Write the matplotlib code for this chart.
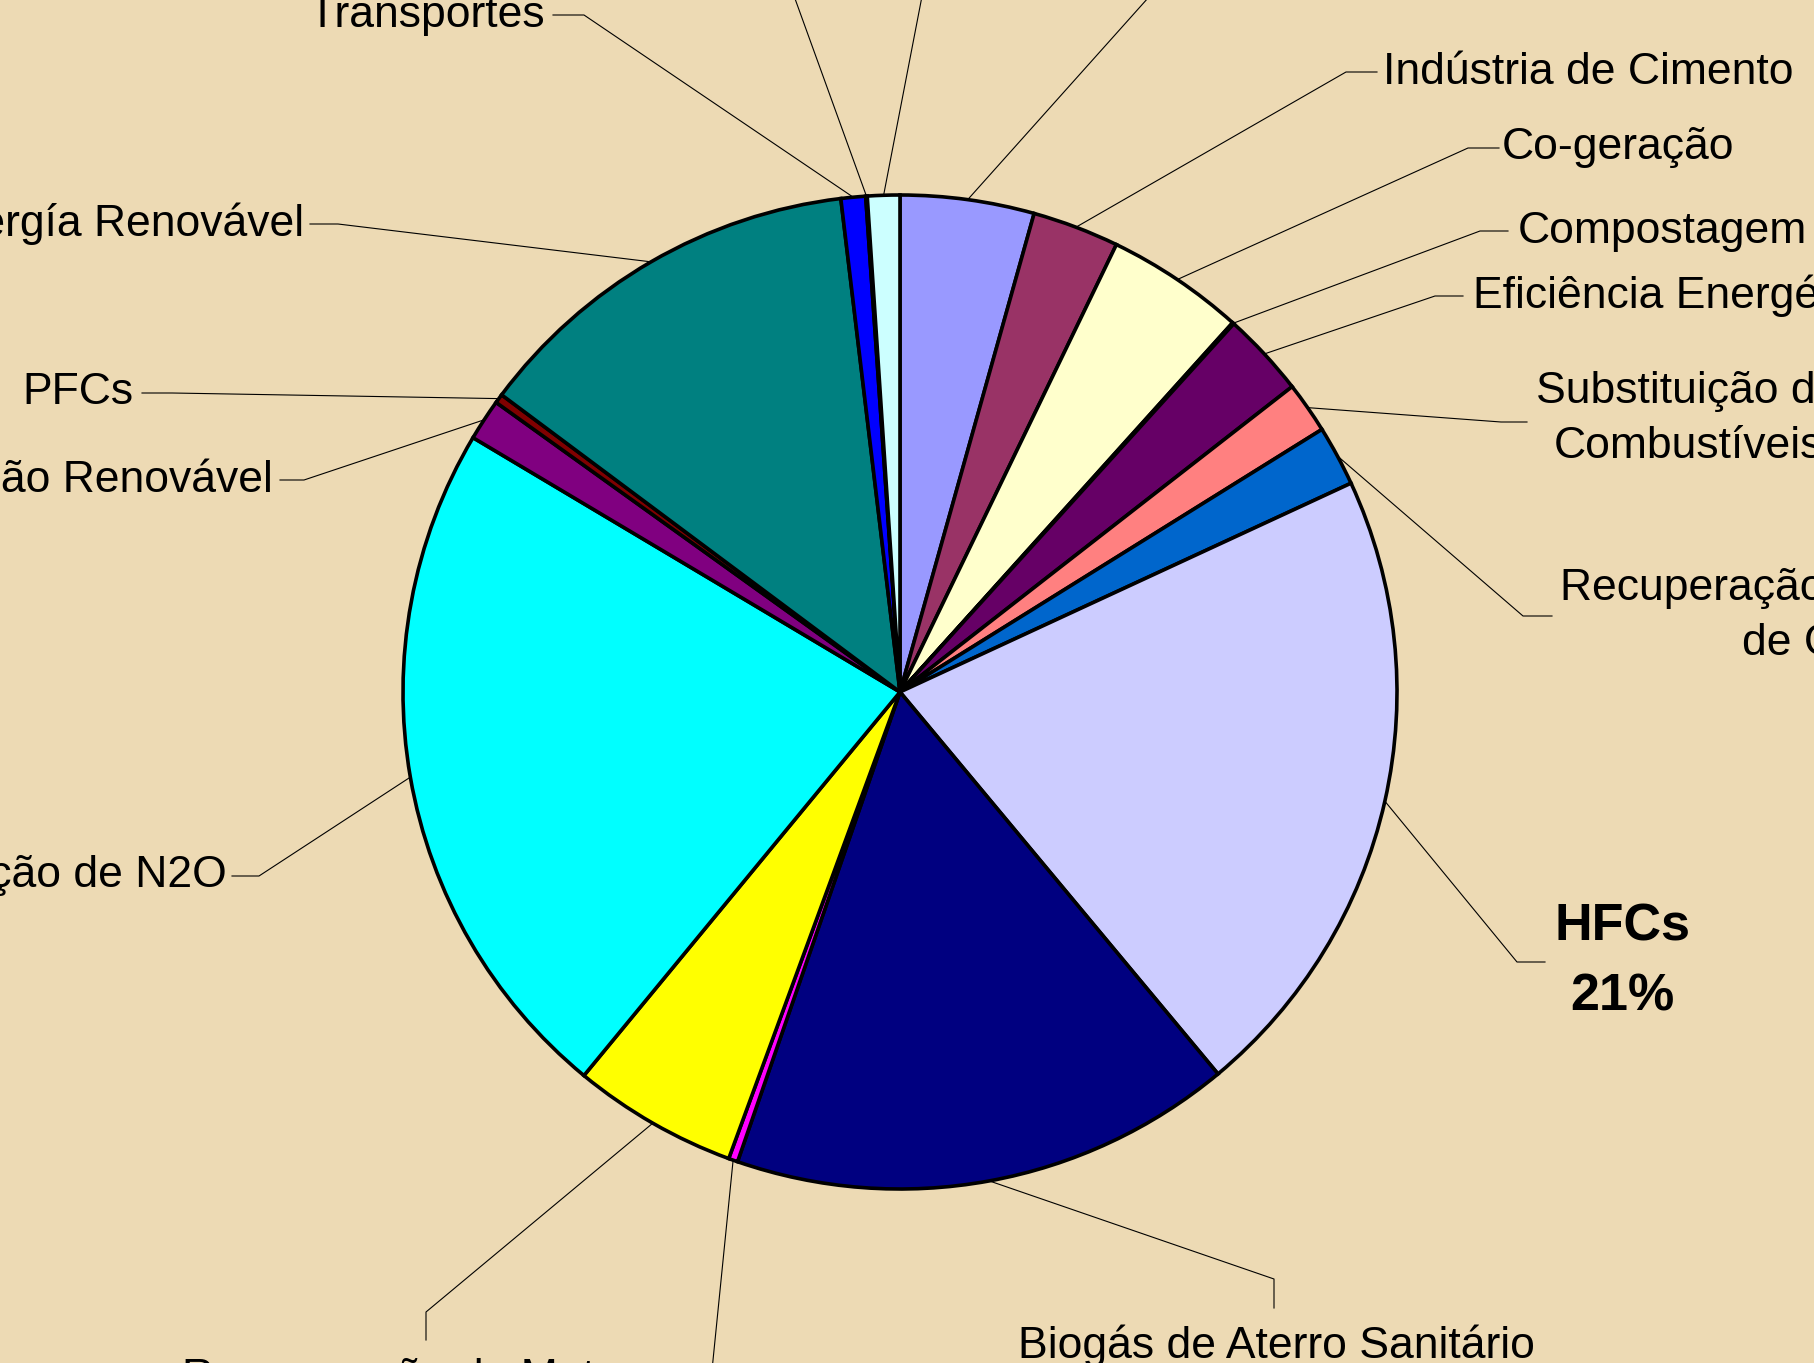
import numpy as np
import matplotlib
matplotlib.use("Agg")
import matplotlib.pyplot as plt

# slices, clockwise from 12 o'clock
labels = ["Suinocultura", "Indústria de Cimento", "Co-geração", "Compostagem",
          "Eficiência Energética", "Substituição de\nCombustíveis",
          "Recuperação e Utilização\nde Gás", "HFCs", "Biogás de Aterro Sanitário",
          "Manejo de Dejetos", "Recuperação de Metano", "Redução de N2O",
          "Biomassa Não Renovável", "PFCs", "Energía Renovável", "Transportes",
          "Emissões Fugitivas", "Hidroelétrica"]
values = [4.35, 2.82, 4.50, 0.05, 2.75, 1.67, 1.96, 20.85, 16.35,
          0.30, 5.37, 22.58, 1.35, 0.30, 12.90, 0.80, 0.05, 1.05]
colors = ["#9999FF", "#993366", "#FFFFCC", "#FF6600", "#660066", "#FF8080",
          "#0066CC", "#CCCCFF", "#000080", "#FF00FF", "#FFFF00", "#00FFFF",
          "#800080", "#800000", "#008080", "#0000FF", "#33CCCC", "#CCFFFF"]
highlight = "HFCs"

W, H = 1814, 1363
cx, cy, R = 900, H - 692, 497
bg = "#EDDAB4"

# label layout in pixels from the top-left: elbow, stub end, text pos, ha, va
layout = [
    ((1182, -40), (1212, -40), (1220, -40), "left", "center"),
    ((1346, 72), (1377, 72), (1383, 72), "left", "center"),
    ((1468, 148), (1499, 148), (1502, 148), "left", "center"),
    ((1480, 231), (1508, 231), (1518, 231), "left", "center"),
    ((1435, 296), (1463, 296), (1473, 296), "left", "center"),
    ((1501, 422), (1527, 422), (1536, 419), "left", "center"),
    ((1523, 616), (1552, 616), (1560, 616), "left", "center"),
    ((1517, 962), (1545, 962), (1622, 962), "center", "center"),
    ((1274, 1279), (1274, 1308), (1276, 1358), "center", "baseline"),
    ((709, 1400), (709, 1430), (709, 1480), "center", "baseline"),
    ((426, 1312), (426, 1340), (426, 1390), "center", "baseline"),
    ((259, 876), (232, 876), (227, 876), "right", "center"),
    ((304, 480), (280, 480), (273, 480), "right", "center"),
    ((172, 393), (142, 393), (133, 393), "right", "center"),
    ((338, 224), (310, 224), (304, 224), "right", "center"),
    ((584, 15), (553, 15), (545, 15), "right", "center"),
    ((781, -40), (751, -40), (743, -40), "right", "center"),
    ((929, -40), (959, -40), (967, -40), "left", "center"),
]

fig = plt.figure(figsize=(W / 100, H / 100), dpi=100)
fig.patch.set_facecolor(bg)
ax = fig.add_axes([0, 0, 1, 1])
ax.set_facecolor(bg)

ax.pie(values, colors=colors, startangle=90, counterclock=False,
       center=(cx, cy), radius=R,
       wedgeprops=dict(edgecolor="black", linewidth=2.6))
ax.set_xlim(0, W)
ax.set_ylim(0, H)
ax.set_aspect("equal")
ax.axis("off")

total = sum(values)
cum = np.cumsum(values) - np.array(values) / 2
for lab, v, c, (el, st, tp, ha, va) in zip(labels, values, cum, layout):
    th = np.deg2rad(c / total * 360)
    ax_x, ax_y = cx + R * np.sin(th), cy + R * np.cos(th)
    ax.plot([ax_x, el[0], st[0]], [ax_y, H - el[1], H - st[1]],
            color="black", lw=0.8, clip_on=False, zorder=0.5)
    if lab == highlight:
        txt = "%s\n%d%%" % (lab, round(v / total * 100))
        ax.text(tp[0], H - tp[1], txt, ha=ha, va=va, fontsize=37.5,
                fontweight="bold", family="Liberation Sans",
                multialignment="center", linespacing=1.55)
    else:
        ax.text(tp[0], H - tp[1], lab, ha=ha, va=va, fontsize=32,
                family="Liberation Sans", multialignment="center",
                linespacing=1.42)

fig.savefig("out.png", dpi=100, facecolor=bg)
